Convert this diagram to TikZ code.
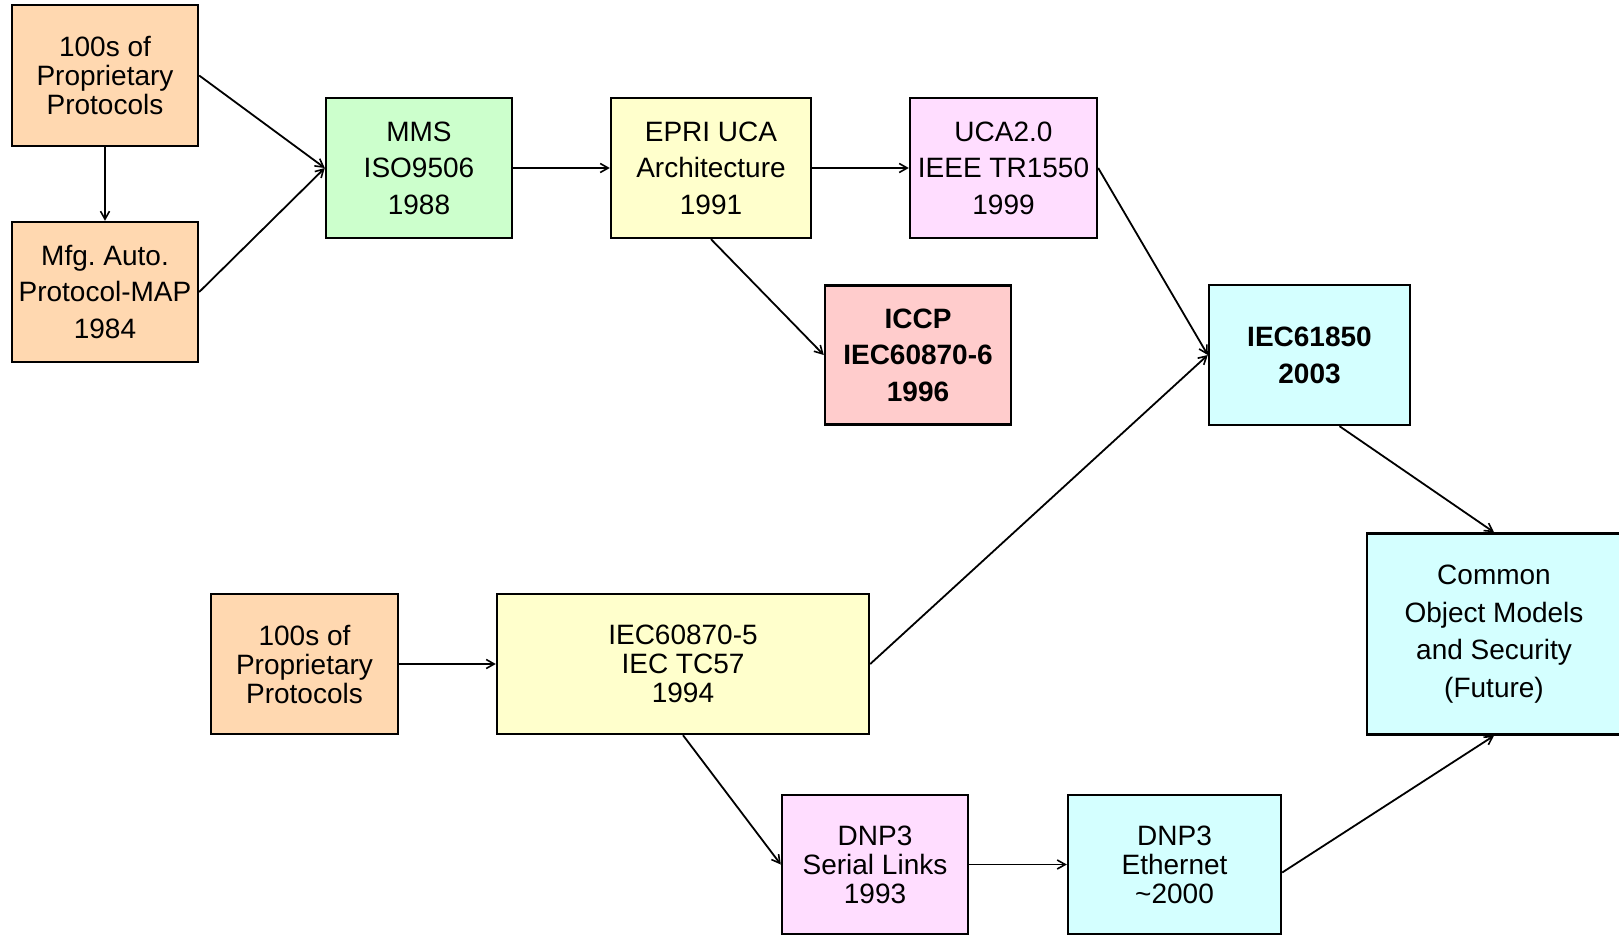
\documentclass[tikz,border=0pt]{standalone}
\usepackage{fontspec}
\setmainfont{Liberation Sans}
\usetikzlibrary{arrows.meta}
\frenchspacing
\definecolor{cpeach}{HTML}{FFD8B0}
\definecolor{cgreen}{HTML}{CCFFCC}
\definecolor{cyellow}{HTML}{FFFFCC}
\definecolor{cpink}{HTML}{FFDDFF}
\definecolor{cred}{HTML}{FFCCCC}
\definecolor{ccyan}{HTML}{D4FFFF}
\tikzset{
  box/.style={draw=black, line width=2.4pt, rectangle, inner sep=0pt, align=center,
    font=\fontsize{28}{36.5}\selectfont},
  tight/.style={font=\fontsize{28}{29}\selectfont},
  conn/.style={line width=1.8pt, -{Straight Barb[length=8pt,width=9pt,line width=1.6pt]}},
}
\begin{document}
\begin{tikzpicture}[x=1pt,y=-1pt]
\useasboundingbox (0,0) rectangle (1619,934);
\fill[white] (0,0) rectangle (1619,934);
% nodes
\node[box,tight,fill=cpeach,minimum width=186pt,minimum height=141pt] (p1) at (105,75.5) {100s of\\Proprietary\\Protocols};
\node[box,fill=cpeach,minimum width=186pt,minimum height=140pt] (map) at (105,292) {Mfg. Auto.\\Protocol-MAP\\1984};
\node[box,fill=cgreen,minimum width=186pt,minimum height=140pt] (mms) at (419,168) {MMS\\ISO9506\\1988};
\node[box,fill=cyellow,minimum width=200pt,minimum height=140pt] (epri) at (711,168) {EPRI UCA\\Architecture\\1991};
\node[box,fill=cpink,minimum width=187pt,minimum height=140pt] (uca) at (1003.5,168) {UCA2.0\\IEEE TR1550\\1999};
\node[box,fill=cred,minimum width=186pt,minimum height=139pt,font=\fontsize{28}{36.5}\selectfont\bfseries] (iccp) at (918,355) {ICCP\\IEC60870-6\\1996};
\node[box,fill=ccyan,minimum width=201pt,minimum height=140pt,font=\fontsize{28}{37}\selectfont\bfseries] (iec61850) at (1309.5,355) {IEC61850\\2003};
\node[box,fill=ccyan,minimum width=254pt,minimum height=201pt,font=\fontsize{28}{37.5}\selectfont] (common) at (1494,634) {Common\\Object Models\\and Security\\(Future)};
\node[box,tight,fill=cpeach,minimum width=187pt,minimum height=140pt] (p2) at (304.5,664) {100s of\\Proprietary\\Protocols};
\node[box,tight,fill=cyellow,minimum width=372pt,minimum height=140pt] (iec5) at (683,664) {IEC60870-5\\IEC TC57\\1994};
\node[box,tight,fill=cpink,minimum width=186pt,minimum height=139pt] (dnps) at (875,864.5) {DNP3\\Serial Links\\1993};
\node[box,tight,fill=ccyan,minimum width=213pt,minimum height=139pt] (dnpe) at (1174.5,864.5) {DNP3\\Ethernet\\\textasciitilde2000};
% connectors
\draw[conn] (p1.south) -- (map.north);
\draw[conn] (p1.east) -- (mms.west);
\draw[conn] (map.east) -- (mms.west);
\draw[conn] (mms.east) -- (epri.west);
\draw[conn] (epri.east) -- (uca.west);
\draw[conn] (epri.south) -- (iccp.west);
\draw[conn] (uca.east) -- (iec61850.west);
\draw[conn] (iec5.east) -- (iec61850.west);
\draw[conn] ([xshift=30pt]iec61850.south) -- (common.north);
\draw[conn] (p2.east) -- (iec5.west);
\draw[conn] (iec5.south) -- (dnps.west);
\draw[conn] (dnps.east) -- (dnpe.west);
\draw[conn] ([yshift=-8pt]dnpe.east) -- (common.south);
\end{tikzpicture}
\end{document}
